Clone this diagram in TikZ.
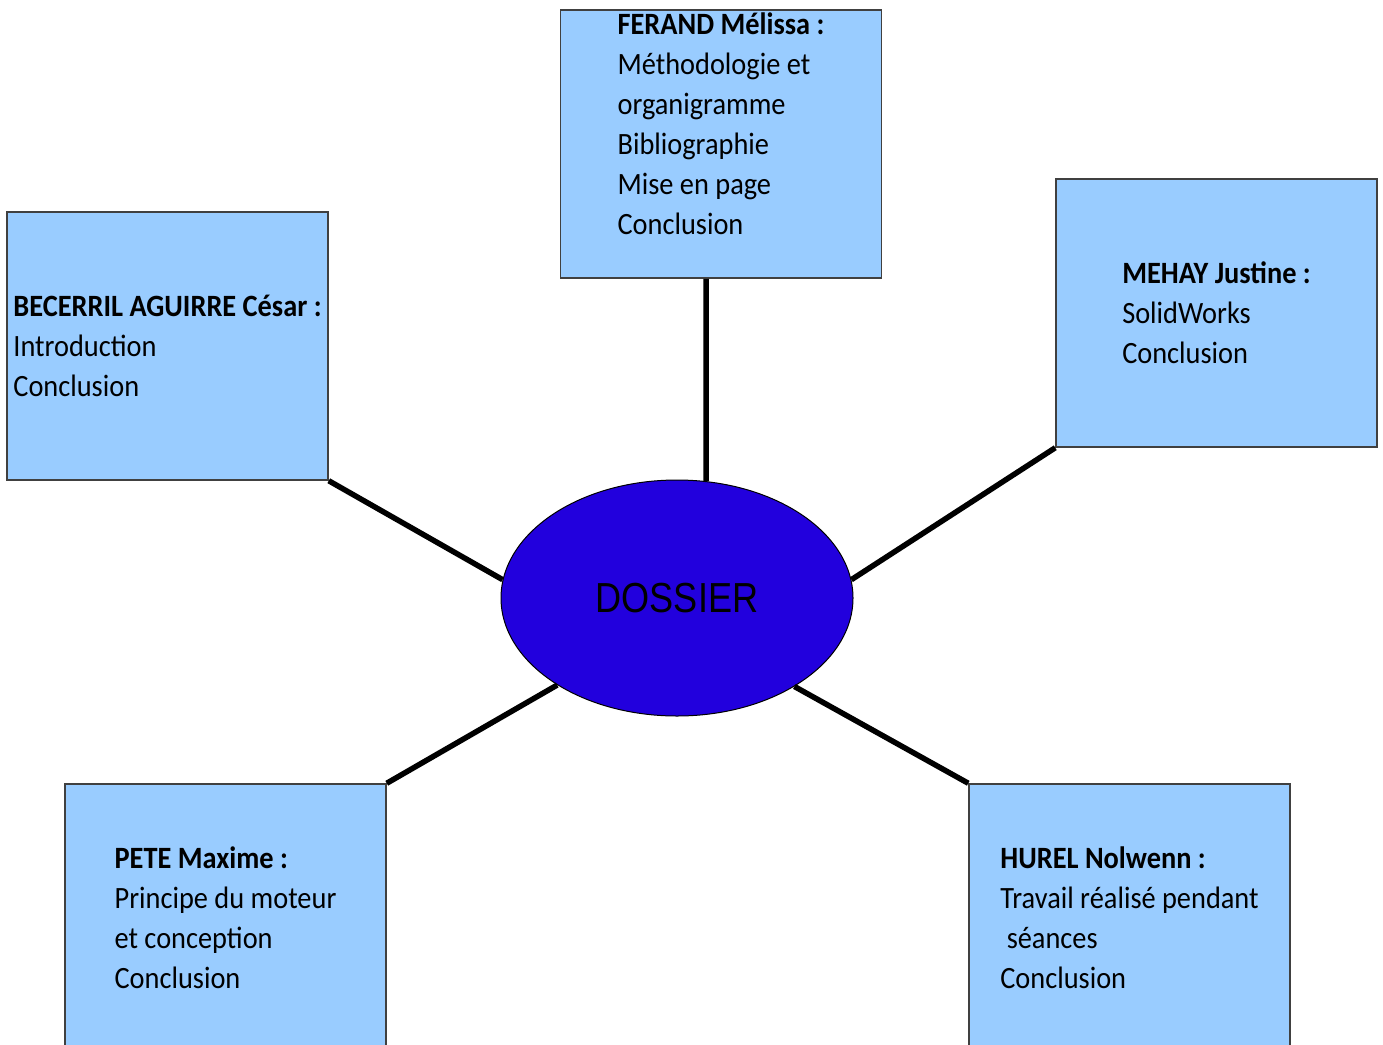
\documentclass[tikz,border=0pt]{standalone}
\usepackage{fontspec}
\setmainfont[FakeStretch=0.915]{Carlito}
\newfontfamily\dossierfont[FakeStretch=0.86]{Liberation Sans}
\usetikzlibrary{shapes.geometric}
\definecolor{boite}{HTML}{99CCFF}
\definecolor{bulle}{HTML}{2200DD}

\begin{document}
\begin{tikzpicture}[x=1pt,y=-1pt,
    membre/.style={rectangle,draw=black!75,line width=1.5pt,fill=boite,minimum width=321pt,minimum height=268pt,inner sep=0pt,align=left,font=\fontsize{31}{40}\selectfont},
    lien/.style={line width=5.5pt}]

    \useasboundingbox (0,0) rectangle (1383,1044);

    \node[membre] (ferand) at (721,144) {\textbf{FERAND Mélissa :}\\Méthodologie et\\organigramme\\Bibliographie\\Mise en page\\Conclusion\\~};
    \node[membre] (becerril) at (167.5,346) {\textbf{BECERRIL AGUIRRE César :}\\Introduction\\Conclusion};
    \node[membre] (mehay) at (1216.5,313) {\textbf{MEHAY Justine :}\\SolidWorks\\Conclusion};
    \node[membre] (pete) at (225.5,918) {\textbf{PETE Maxime :}\\Principe du moteur\\et conception\\Conclusion};
    \node[membre] (hurel) at (1129.5,918) {\textbf{HUREL Nolwenn :}\\Travail réalisé pendant\\~séances\\Conclusion};

    \node[ellipse,draw=black,line width=1pt,fill=bulle,minimum width=352pt,minimum height=236pt,inner sep=0pt,font=\dossierfont\fontsize{42}{50}\selectfont] (dossier) at (677,598) {DOSSIER};

    \draw [lien] ([xshift=-15pt]ferand.south) to (dossier.76);
    \draw [lien] (becerril.south east) to (dossier.174);
    \draw [lien] (mehay.south west) to (dossier.6);
    \draw [lien] (pete.north east) to (dossier.216);
    \draw [lien] (hurel.north west) to (dossier.323);

  \end{tikzpicture}
\end{document}
